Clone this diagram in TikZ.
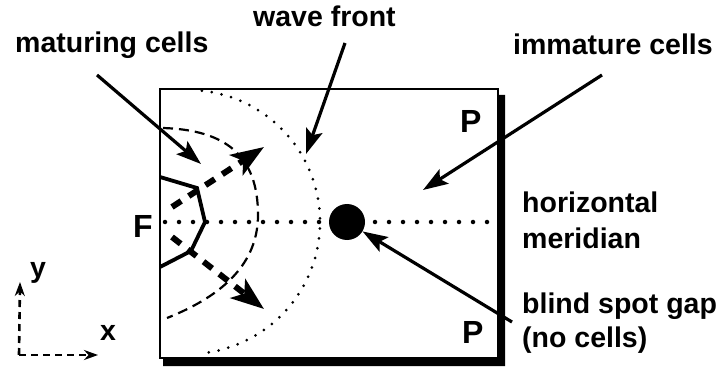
\documentclass[tikz,border=0pt]{standalone}
\usepackage{fontspec}
\setmainfont{Liberation Sans}
\usetikzlibrary{arrows.meta}
\tikzset{
  lbl/.style={font=\fontsize{28.5}{30}\selectfont\bfseries, inner sep=0pt, anchor=base west},
  big/.style={font=\fontsize{32}{34}\selectfont\bfseries, inner sep=0pt, anchor=base west},
  pointer/.style={line width=3.2pt, -{Stealth[length=25pt,width=17pt,inset=5pt]}},
  migrate/.style={line width=6pt, dash pattern=on 11pt off 9pt, -{Stealth[length=33pt,width=24pt,inset=8pt]}},
  axis/.style={line width=2.6pt, dash pattern=on 7pt off 5pt, -{Stealth[length=14pt,width=10pt]}},
  dots/.style={line cap=round, dash pattern=on 0pt off #1},
}
\begin{document}
\begin{tikzpicture}[x=1pt, y=-1pt]
  \useasboundingbox (0,0) rectangle (719,371);
  % retina box with its shadow
  \draw[line width=2.4pt] (160,89) rectangle (498,358);
  \fill (498,95) -- (505,95) -- (505,366) -- (163,366) -- (163,358) -- (498,358) -- cycle;
  % meridian and wave front
  \draw[line width=4.5pt, dots=14pt] (165,222) -- (500,222);
  \coordinate (origin) at (188,222);
  \draw[line width=3pt, dots=10pt] (origin) ++(-84:132) arc[start angle=-84, end angle=84, radius=132];
  % maturing region
  \draw[line width=2.2pt, dash pattern=on 10pt off 6pt] (163,128) .. controls (225,130) and (258,155) .. (258,215)
    .. controls (258,262) and (225,295) .. (167,318);
  \draw[line width=3.8pt] (160,177) -- (197,188) -- (205,222) -- (191,251) -- (160,267);
  \coordinate (upStart) at (172,207);
  \coordinate (upTip) at (264,147);
  \coordinate (lowStart) at (172,237);
  \coordinate (lowTip) at (264,309);
  \draw[migrate] (upStart) -- (upTip);
  \draw[migrate] (lowStart) -- (lowTip);
  % blind spot
  \node[circle, fill=black, minimum size=36pt, inner sep=0pt] (spot) at (347,222) {};
  % labels
  \node[big] (fovea) at (133,237) {F};
  \node[big] (pTop) at (460,133) {P};
  \node[big] (pBot) at (462,343) {P};
  \node[lbl] (matLbl) at (15,53) {maturing cells};
  \node[lbl] (waveLbl) at (253,27) {wave front};
  \node[lbl] (immLbl) at (513,55) {immature cells};
  \node[lbl] (merLbl) at (522,213) {horizontal};
  \node[lbl] (merLbl2) at (522,248) {meridian};
  \node[lbl] (bsLbl) at (522,313) {blind spot gap};
  \node[lbl] (bsLbl2) at (522,347) {(no cells)};
  % pointers
  \coordinate (matStart) at (97,75);
  \coordinate (matTip) at (201,164);
  \coordinate (waveStart) at (345,43);
  \coordinate (waveTip) at (306,154);
  \coordinate (immStart) at (602,75);
  \coordinate (immTip) at (423,190);
  \coordinate (bsStart) at (512,322);
  \draw[pointer] (matStart) -- (matTip);
  \draw[pointer] (waveStart) -- (waveTip);
  \draw[pointer] (immStart) -- (immTip);
  \draw[pointer] (bsStart) -- (spot);
  % axes
  \coordinate (axO) at (19,355);
  \coordinate (axY) at (20,282);
  \coordinate (axX) at (98,355);
  \draw[axis] (axO) -- (axY);
  \draw[axis] (axO) -- (axX);
  \node[lbl] (yLbl) at (30,277) {y};
  \node[lbl] (xLbl) at (100,340) {x};
\end{tikzpicture}
\end{document}
